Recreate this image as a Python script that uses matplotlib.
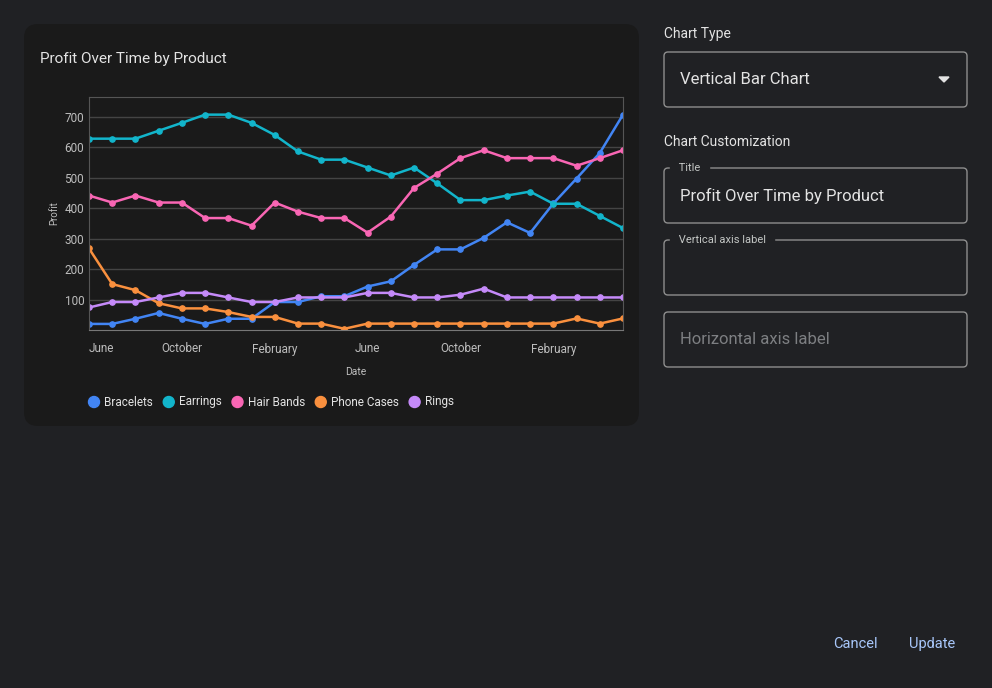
import matplotlib.pyplot as plt
from matplotlib.patches import FancyBboxPatch, Circle
from matplotlib.lines import Line2D

plt.rcParams['font.family'] = ['Roboto', 'DejaVu Sans']

months = list(range(24))
tick_pos = [0, 4, 8, 12, 16, 20]
tick_labels = ["June", "October", "February", "June", "October", "February"]

bracelets = [20, 20, 37, 56, 37, 20, 37, 37, 92, 92, 111, 111, 143, 160, 214, 265, 265, 303, 354, 319, 416, 498, 582, 708]
earrings = [629, 629, 629, 655, 681, 708, 708, 681, 641, 587, 560, 560, 534, 508, 534, 482, 427, 427, 442, 455, 415, 415, 375, 335]
hair_bands = [442, 419, 442, 419, 419, 368, 368, 343, 419, 389, 368, 368, 320, 373, 467, 514, 565, 591, 565, 565, 565, 540, 565, 591]
phone_cases = [268, 151, 131, 88, 71, 71, 59, 43, 43, 21, 21, 4, 21, 21, 21, 21, 21, 21, 21, 21, 21, 38, 21, 38]
rings = [74, 92, 92, 107, 122, 122, 107, 92, 92, 107, 107, 107, 122, 122, 107, 107, 116, 136, 107, 107, 107, 107, 107, 107]

series = [("Bracelets", bracelets, "#4285f4"),
          ("Earrings", earrings, "#12b5cb"),
          ("Hair Bands", hair_bands, "#f966b4"),
          ("Phone Cases", phone_cases, "#fa903e"),
          ("Rings", rings, "#c58af9")]

W, H = 992, 688
fig = plt.figure(figsize=(W / 100, H / 100), dpi=100)
fig.patch.set_facecolor("#202124")

# overlay axes in pixel coords
bg = fig.add_axes([0, 0, 1, 1])
bg.set_xlim(0, W)
bg.set_ylim(H, 0)
bg.axis("off")

def box(x, y, w, h, fc, ec="none", r=8):
    bg.add_patch(FancyBboxPatch((x, y), w, h, boxstyle="round,pad=0,rounding_size=%d" % r,
                                fc=fc, ec=ec, lw=1))

box(24, 24, 615, 402, "#1a1a1a", r=14)
bg.text(40, 59, "Profit Over Time by Product", color="#e3e3e3", fontsize=11, va="center")

# right panel
bg.text(664, 34, "Chart Type", color="#e3e3e3", fontsize=10, va="center")
box(664, 52, 303, 55, "none", "#8e8e8e", r=4)
bg.text(680, 79, "Vertical Bar Chart", color="#e3e3e3", fontsize=12, va="center")
bg.plot([939, 944, 949], [77, 82, 77], color="#e3e3e3", lw=0)
bg.fill([939, 949, 944], [77, 77, 82], color="#e3e3e3")
bg.text(664, 142, "Chart Customization", color="#e3e3e3", fontsize=10, va="center")
box(664, 168, 303, 55, "none", "#8e8e8e", r=4)
bg.text(676, 168, " Title ", color="#c4c7c5", fontsize=8, va="center", backgroundcolor="#202124")
bg.text(680, 196, "Profit Over Time by Product", color="#e3e3e3", fontsize=12, va="center")
box(664, 240, 303, 55, "none", "#8e8e8e", r=4)
bg.text(676, 240, " Vertical axis label ", color="#c4c7c5", fontsize=8, va="center", backgroundcolor="#202124")
box(664, 312, 303, 55, "none", "#8e8e8e", r=4)
bg.text(680, 339, "Horizontal axis label", color="#7d7f82", fontsize=12, va="center")
bg.text(855, 644, "Cancel", color="#a8c7fa", fontsize=10.5, va="center", ha="center")
bg.text(932, 644, "Update", color="#a8c7fa", fontsize=10.5, va="center", ha="center")

# legend
lx = 94
for name, _, c in series:
    bg.add_patch(Circle((lx, 402), 5.5, color=c))
    t = bg.text(lx + 10, 402, name, color="#e3e3e3", fontsize=8.5, va="center")
    fig.canvas.draw()
    bb = t.get_window_extent()
    lx = lx + 10 + bb.width + 16

# chart axes
ax = fig.add_axes([89 / W, 1 - 330 / H, (623 - 89) / W, (330 - 97) / H])
ax.set_facecolor("#1a1a1a")
for name, vals, c in series:
    ax.plot(months, vals, color=c, lw=1.8, marker="o", ms=3.8, label=name)
ax.set_xlim(0, 23)
ax.set_ylim(0, 766)
ax.set_yticks([100, 200, 300, 400, 500, 600, 700])
ax.grid(axis="y", color="#444444", lw=1)
ax.set_axisbelow(True)
ax.set_xticks(tick_pos)
ax.set_xticklabels(tick_labels)
ax.get_xticklabels()[0].set_ha("left")
ax.tick_params(colors="#bdbdbd", labelsize=8.5, length=0)
ax.tick_params(axis="x", pad=9)
for s in ax.spines.values():
    s.set_color("#555555")
ax.spines["bottom"].set_color("#777777")
ax.set_ylabel("Profit", color="#bdbdbd", fontsize=7)
ax.set_xlabel("Date", color="#bdbdbd", fontsize=7.5, labelpad=8)

fig.savefig("out.png", dpi=100, facecolor=fig.get_facecolor())
